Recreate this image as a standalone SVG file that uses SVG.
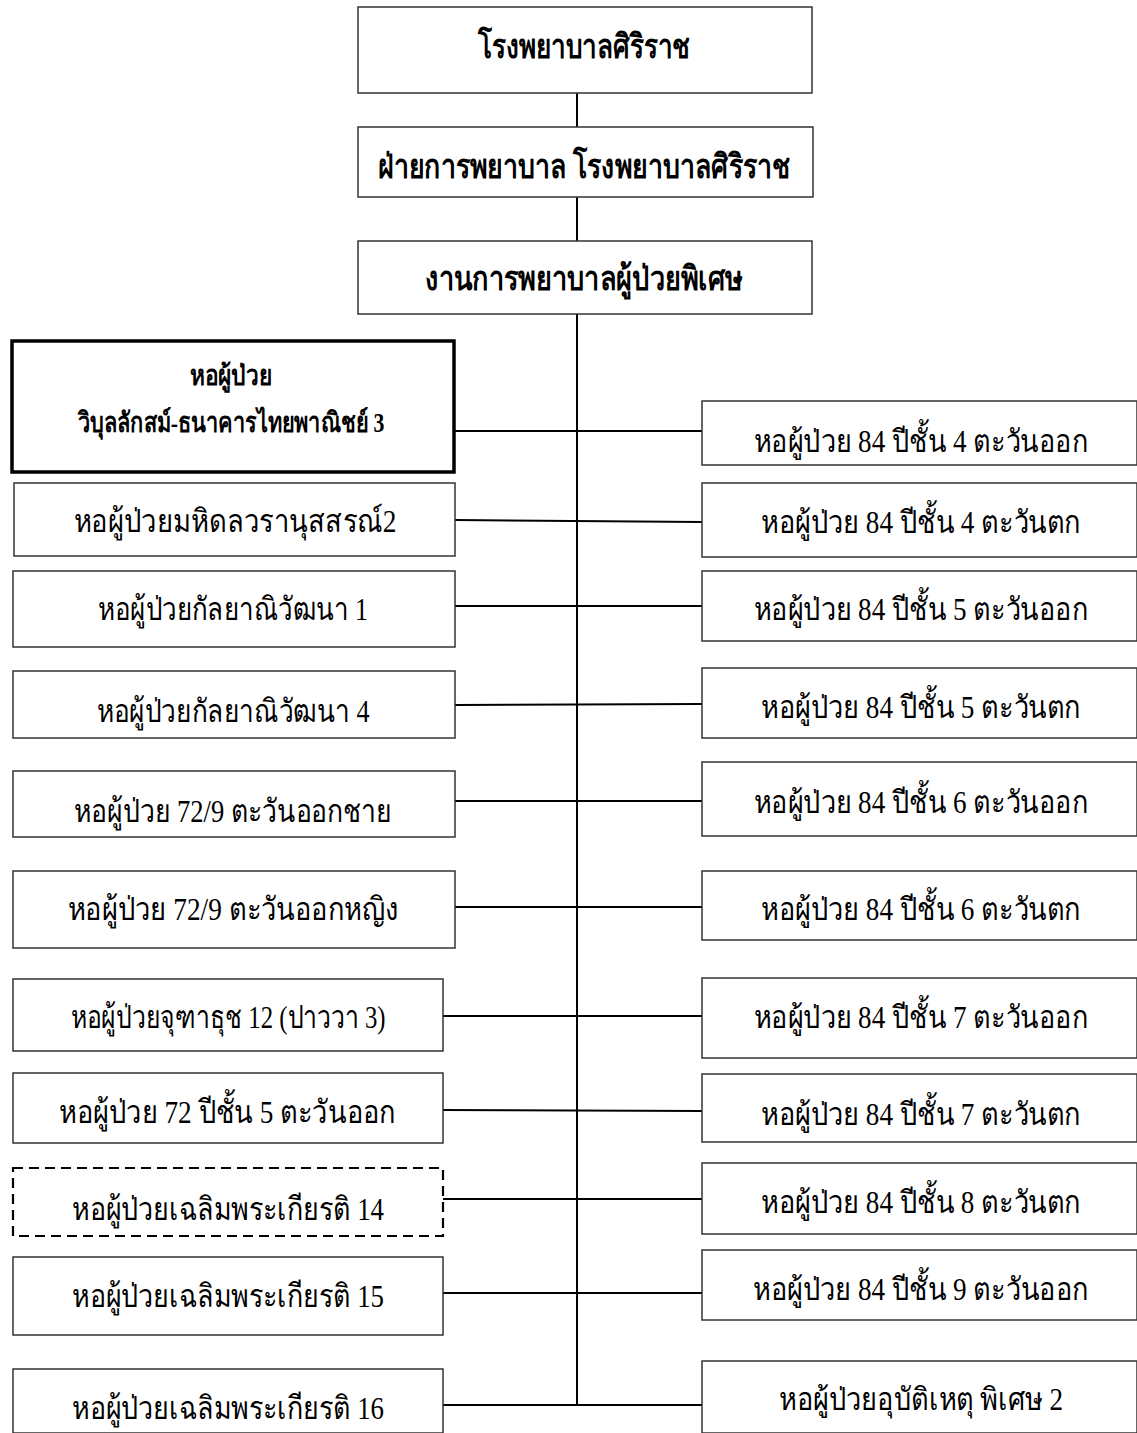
<svg xmlns="http://www.w3.org/2000/svg" width="1137" height="1433" viewBox="0 0 1137 1433">
<style>
.box{fill:#fff;stroke:#333;stroke-width:1.5}
.thick{fill:#fff;stroke:#000;stroke-width:3.5}
.dash{fill:#fff;stroke:#000;stroke-width:2.2;stroke-dasharray:10 6}
.t{font-family:"Liberation Serif","DejaVu Serif",serif;font-size:32px;fill:#000;text-anchor:middle}
.r{font-size:31px}
.b{font-family:"Liberation Serif","DejaVu Serif",serif;font-size:34px;font-weight:bold;fill:#000;text-anchor:middle}
.s{font-size:28px}
.c{stroke:#000;stroke-width:2;fill:none}
</style>
<rect width="1137" height="1433" fill="#fff"/>
<g id="connectors">
<line class="c" x1="577" y1="93" x2="577" y2="127"/>
<line class="c" x1="577" y1="197" x2="577" y2="241"/>
<line class="c" x1="577" y1="314" x2="577" y2="1405"/>
<line class="c" x1="455" y1="431" x2="702" y2="431"/>
<line class="c" x1="455" y1="520" x2="702" y2="522"/>
<line class="c" x1="455" y1="606" x2="702" y2="606"/>
<line class="c" x1="455" y1="705" x2="702" y2="704"/>
<line class="c" x1="455" y1="801" x2="702" y2="801"/>
<line class="c" x1="455" y1="907" x2="702" y2="907"/>
<line class="c" x1="443" y1="1016" x2="702" y2="1016"/>
<line class="c" x1="443" y1="1110" x2="702" y2="1111"/>
<line class="c" x1="443" y1="1199" x2="702" y2="1199"/>
<line class="c" x1="443" y1="1293" x2="702" y2="1293"/>
<line class="c" x1="443" y1="1405" x2="702" y2="1405"/>
</g>
<g id="n-siriraj"><rect class="box" x="358" y="7" width="454" height="86"/><text class="b" x="584" y="58" textLength="212" lengthAdjust="spacingAndGlyphs">โรงพยาบาลศิริราช</text></g>
<g id="n-nursing"><rect class="box" x="358" y="127" width="455" height="70"/><text class="b" x="584" y="178" textLength="412" lengthAdjust="spacingAndGlyphs">ฝ่ายการพยาบาล  โรงพยาบาลศิริราช</text></g>
<g id="n-special"><rect class="box" x="358" y="241" width="454" height="73"/><text class="b" x="584" y="290" textLength="318" lengthAdjust="spacingAndGlyphs">งานการพยาบาลผู้ป่วยพิเศษ</text></g>

<g id="n-l1"><rect class="thick" x="12" y="341" width="442" height="131"/><text class="b s" x="231" y="385" textLength="82" lengthAdjust="spacingAndGlyphs">หอผู้ป่วย</text><text class="b s" x="231" y="432" textLength="307" lengthAdjust="spacingAndGlyphs">วิบุลลักสม์-ธนาคารไทยพาณิชย์ 3</text></g>
<g id="n-l2"><rect class="box" x="14" y="483" width="441" height="73"/><text class="t" x="235" y="532" textLength="323" lengthAdjust="spacingAndGlyphs">หอผู้ป่วยมหิดลวรานุสสรณ์2</text></g>
<g id="n-l3"><rect class="box" x="13" y="571" width="442" height="76"/><text class="t" x="233" y="620" textLength="270" lengthAdjust="spacingAndGlyphs">หอผู้ป่วยกัลยาณิวัฒนา 1</text></g>
<g id="n-l4"><rect class="box" x="13" y="671" width="442" height="67"/><text class="t" x="233" y="722" textLength="273" lengthAdjust="spacingAndGlyphs">หอผู้ป่วยกัลยาณิวัฒนา 4</text></g>
<g id="n-l5"><rect class="box" x="13" y="771" width="442" height="66"/><text class="t" x="233" y="822" textLength="318" lengthAdjust="spacingAndGlyphs">หอผู้ป่วย 72/9 ตะวันออกชาย</text></g>
<g id="n-l6"><rect class="box" x="13" y="871" width="442" height="77"/><text class="t" x="233" y="920" textLength="331" lengthAdjust="spacingAndGlyphs">หอผู้ป่วย 72/9 ตะวันออกหญิง</text></g>
<g id="n-l7"><rect class="box" x="13" y="979" width="430" height="72"/><text class="t" x="228" y="1028" textLength="315" lengthAdjust="spacingAndGlyphs">หอผู้ป่วยจุฑาธุช 12 (ปาววา 3)</text></g>
<g id="n-l8"><rect class="box" x="13" y="1073" width="430" height="70"/><text class="t" x="227" y="1123" textLength="336" lengthAdjust="spacingAndGlyphs">หอผู้ป่วย 72 ปีชั้น 5 ตะวันออก</text></g>
<g id="n-l9"><rect class="dash" x="13" y="1168" width="430" height="68"/><text class="t" x="228" y="1220" textLength="312" lengthAdjust="spacingAndGlyphs">หอผู้ป่วยเฉลิมพระเกียรติ 14</text></g>
<g id="n-l10"><rect class="box" x="13" y="1257" width="430" height="78"/><text class="t" x="228" y="1307" textLength="312" lengthAdjust="spacingAndGlyphs">หอผู้ป่วยเฉลิมพระเกียรติ 15</text></g>
<g id="n-l11"><rect class="box" x="13" y="1369" width="430" height="64"/><text class="t" x="228" y="1419" textLength="312" lengthAdjust="spacingAndGlyphs">หอผู้ป่วยเฉลิมพระเกียรติ 16</text></g>

<g id="n-r1"><rect class="box" x="702" y="401" width="435" height="64"/><text class="t r" x="921" y="452" textLength="335" lengthAdjust="spacingAndGlyphs">หอผู้ป่วย 84 ปีชั้น 4 ตะวันออก</text></g>
<g id="n-r2"><rect class="box" x="702" y="483" width="435" height="74"/><text class="t r" x="921" y="533" textLength="320" lengthAdjust="spacingAndGlyphs">หอผู้ป่วย 84 ปีชั้น 4 ตะวันตก</text></g>
<g id="n-r3"><rect class="box" x="702" y="571" width="435" height="70"/><text class="t r" x="921" y="620" textLength="335" lengthAdjust="spacingAndGlyphs">หอผู้ป่วย 84 ปีชั้น 5 ตะวันออก</text></g>
<g id="n-r4"><rect class="box" x="702" y="668" width="435" height="70"/><text class="t r" x="921" y="718" textLength="320" lengthAdjust="spacingAndGlyphs">หอผู้ป่วย 84 ปีชั้น 5 ตะวันตก</text></g>
<g id="n-r5"><rect class="box" x="702" y="762" width="435" height="74"/><text class="t r" x="921" y="813" textLength="335" lengthAdjust="spacingAndGlyphs">หอผู้ป่วย 84 ปีชั้น 6 ตะวันออก</text></g>
<g id="n-r6"><rect class="box" x="702" y="871" width="435" height="69"/><text class="t r" x="921" y="920" textLength="320" lengthAdjust="spacingAndGlyphs">หอผู้ป่วย 84 ปีชั้น 6 ตะวันตก</text></g>
<g id="n-r7"><rect class="box" x="702" y="978" width="435" height="80"/><text class="t r" x="921" y="1028" textLength="335" lengthAdjust="spacingAndGlyphs">หอผู้ป่วย 84 ปีชั้น 7 ตะวันออก</text></g>
<g id="n-r8"><rect class="box" x="702" y="1074" width="435" height="68"/><text class="t r" x="921" y="1125" textLength="320" lengthAdjust="spacingAndGlyphs">หอผู้ป่วย 84 ปีชั้น 7 ตะวันตก</text></g>
<g id="n-r9"><rect class="box" x="702" y="1163" width="435" height="71"/><text class="t r" x="921" y="1213" textLength="320" lengthAdjust="spacingAndGlyphs">หอผู้ป่วย 84 ปีชั้น 8 ตะวันตก</text></g>
<g id="n-r10"><rect class="box" x="702" y="1250" width="435" height="70"/><text class="t r" x="921" y="1300" textLength="336" lengthAdjust="spacingAndGlyphs">หอผู้ป่วย 84 ปีชั้น 9 ตะวันออก</text></g>
<g id="n-r11"><rect class="box" x="702" y="1361" width="435" height="72"/><text class="t r" x="921" y="1410" textLength="284" lengthAdjust="spacingAndGlyphs">หอผู้ป่วยอุบัติเหตุ พิเศษ 2</text></g>
</svg>
